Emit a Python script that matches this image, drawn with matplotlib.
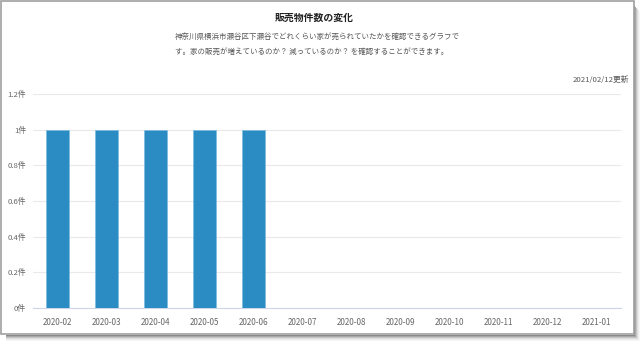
import matplotlib
matplotlib.use("Agg")
import matplotlib.pyplot as plt
from matplotlib.patches import Rectangle

plt.rcParams['font.family'] = ['Noto Sans CJK JP', 'DejaVu Sans']

categories = ["2020-02", "2020-03", "2020-04", "2020-05", "2020-06", "2020-07",
              "2020-08", "2020-09", "2020-10", "2020-11", "2020-12", "2021-01"]
values = [1, 1, 1, 1, 1, 0, 0, 0, 0, 0, 0, 0]
yticks = [0, 0.2, 0.4, 0.6, 0.8, 1.0, 1.2]
ytick_labels = ["0件", "0.2件", "0.4件", "0.6件", "0.8件", "1件", "1.2件"]

title = "販売物件数の変化"
subtitle1 = "神奈川県横浜市瀬谷区下瀬谷でどれくらい家が売られていたかを確認できるグラフで"
subtitle2 = "す。家の販売が増えているのか？ 減っているのか？ を確認することができます。"
updated = "2021/02/12更新"

W, H = 640, 341
fig = plt.figure(figsize=(W / 100, H / 100), dpi=100)
fig.patch.set_facecolor("white")

# shadow strips
for i, c in enumerate(["#8a8a8a", "#a8a8a8", "#c4c4c4", "#dcdcdc", "#ececec", "#f6f6f6"]):
    fig.patches.append(Rectangle(((634 + i) / W, 0 / H), 1 / W, (H - 6 - i) / H,
                                 transform=fig.transFigure, facecolor=c, edgecolor="none", zorder=-10))
    fig.patches.append(Rectangle((6 / W, (H - 335 - i - 1) / H), (628 + i) / W, 1 / H,
                                 transform=fig.transFigure, facecolor=c, edgecolor="none", zorder=-10))
# card
fig.patches.append(Rectangle((0.5 / W, (H - 334) / H), 633 / W, 333.5 / H,
                             transform=fig.transFigure, facecolor="white",
                             edgecolor="#a0a0a0", linewidth=1.2, zorder=-9))

ax = fig.add_axes([33 / W, 1 - 308 / H, (621 - 33) / W, (308 - 94) / H])
ax.set_zorder(5)
x = list(range(len(categories)))
ax.bar(x, values, width=0.47, color="#2a8cc2", edgecolor="#7bbbe0", linewidth=0.5, zorder=3)
ax.set_xlim(-0.5, len(categories) - 0.5)
ax.set_ylim(0, 1.2)
ax.set_yticks(yticks)
ax.set_yticklabels(ytick_labels)
ax.set_xticks(x)
ax.set_xticklabels(categories)
ax.tick_params(axis="both", length=0, labelsize=5.6, colors="#666666", pad=5)
ax.tick_params(axis="x", pad=7, labelsize=5.8)
ax.grid(axis="y", color="#e9e9e9", linewidth=0.8, zorder=0)
for s in ["top", "right", "left"]:
    ax.spines[s].set_visible(False)
ax.spines["bottom"].set_color("#ccd6eb")
ax.spines["bottom"].set_linewidth(0.8)
ax.set_facecolor("none")

fig.text(314 / W, 1 - 18 / H, title, ha="center", va="center", fontsize=7.1, fontweight="bold", color="#222222")
fig.text(175 / W, 1 - 37 / H, subtitle1, ha="left", va="center", fontsize=5.4, color="#555555")
fig.text(175 / W, 1 - 52 / H, subtitle2, ha="left", va="center", fontsize=5.4, color="#555555")
fig.text(629 / W, 1 - 80 / H, updated, ha="right", va="center", fontsize=5.6, color="#555555")

fig.savefig("out.png", dpi=100)
